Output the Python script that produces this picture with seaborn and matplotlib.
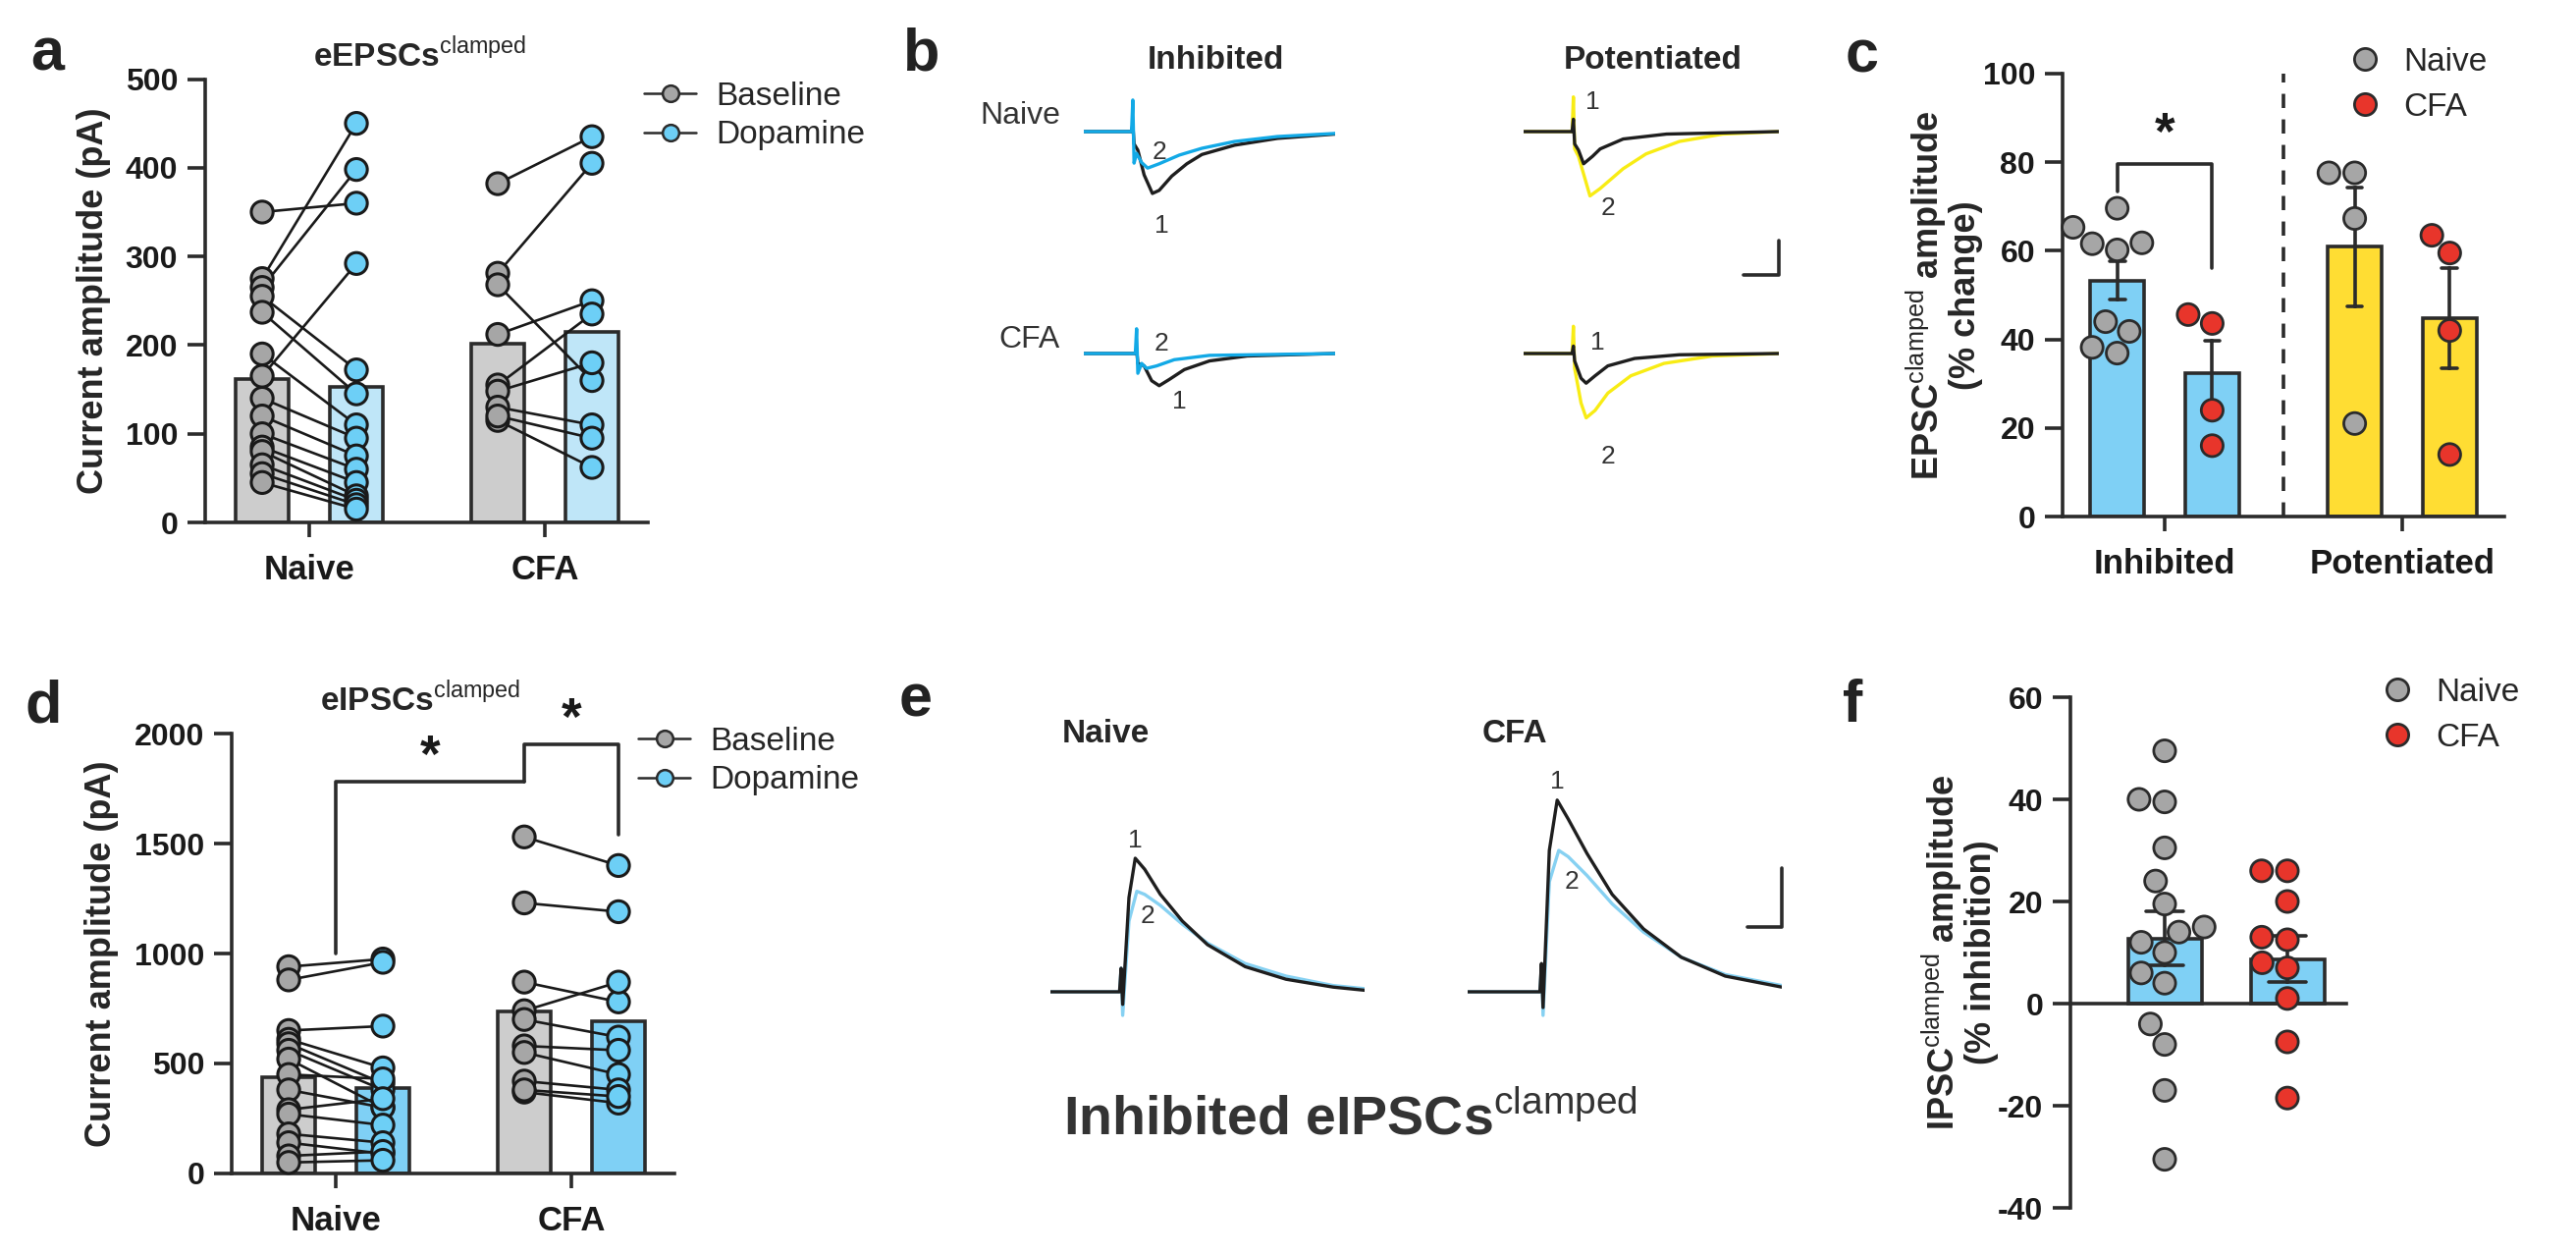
import numpy as np
import pandas as pd
import matplotlib
matplotlib.use("Agg")
import matplotlib.pyplot as plt
import seaborn as sns
from matplotlib.lines import Line2D

# ---------------- data ----------------
groups = ["Naive", "CFA"]
conditions = ["Baseline", "Dopamine"]

# panel a: eEPSCs clamped amplitude (pA), paired cells
a_naive_baseline = [350, 275, 265, 255, 237, 165, 190, 140, 120, 100, 85, 80, 65, 55, 45]
a_naive_dopamine = [360, 450, 398, 172, 145, 292, 110, 95, 75, 60, 45, 30, 25, 20, 15]
a_cfa_baseline = [382, 281, 268, 212, 155, 148, 130, 115, 120]
a_cfa_dopamine = [435, 405, 160, 250, 235, 180, 110, 62, 95]
a_yticks = [0, 100, 200, 300, 400, 500]

# panel d: eIPSCs clamped amplitude (pA), paired cells
d_naive_baseline = [940, 880, 650, 610, 590, 560, 520, 450, 380, 290, 270, 180, 140, 80, 50]
d_naive_dopamine = [975, 960, 670, 480, 410, 380, 300, 430, 300, 340, 220, 140, 90, 100, 60]
d_cfa_baseline = [1530, 1230, 870, 740, 700, 580, 550, 420, 370, 380]
d_cfa_dopamine = [1400, 1190, 780, 870, 620, 560, 450, 380, 320, 350]
d_yticks = [0, 500, 1000, 1500, 2000]

# panel c: EPSC clamped amplitude (% change)
c_categories = ["Inhibited", "Potentiated"]
c_inhibited_naive = [69.6, 65.3, 61.8, 61.6, 60.2, 44.0, 41.8, 38.2, 36.9]
c_inhibited_cfa = [45.6, 43.6, 24.0, 16.0]
c_potentiated_naive = [77.6, 77.6, 67.3, 21.0]
c_potentiated_cfa = [63.5, 59.5, 42.0, 14.0]
c_yticks = [0, 20, 40, 60, 80, 100]

# panel f: IPSC clamped amplitude (% inhibition)
f_naive = [49.5, 40, 39.5, 30.5, 24, 19.5, 15, 14, 12, 10, 6, 4, -4, -8, -17, -30.5]
f_cfa = [26, 26, 20, 13, 12.5, 8, 7, 1, -7.5, -18.5]
f_yticks = [-40, -20, 0, 20, 40, 60]

# panel b: example EPSC traces (time ms, current pA); 1 = baseline, 2 = dopamine
b_naive_inh_t1 = [0, 19, 19.5, 20, 21.5, 24, 27.3, 30, 35, 41, 47, 60, 77, 100]
b_naive_inh_i1 = [0, 0, 12, -20, -30, -70, -100, -95, -72, -52, -37, -22, -11, -4]
b_naive_inh_t2 = [0, 19, 19.5, 20, 21, 23, 25.4, 30, 38, 47, 60, 77, 100]
b_naive_inh_i2 = [0, 0, 51, -51, -35, -50, -59, -52, -38, -27, -16, -8, -3]
b_naive_pot_t1 = [0, 19, 19.5, 20, 21.5, 23.5, 27, 30, 39, 56, 100]
b_naive_pot_i1 = [0, 0, 20, -20, -30, -52, -40, -28, -12, -4, 0]
b_naive_pot_t2 = [0, 19, 19.5, 20, 21.5, 26, 30, 39, 48, 61, 78, 100]
b_naive_pot_i2 = [0, 0, 56, -28, -40, -104, -92, -60, -36, -16, -4, 0]
b_cfa_inh_t1 = [0, 20.5, 21, 21.5, 24, 27, 30, 34, 40, 50, 65, 100]
b_cfa_inh_i1 = [0, 0, 8, -16, -20, -44, -52, -42, -26, -12, -4, 0]
b_cfa_inh_t2 = [0, 20.5, 21, 21.5, 23, 25, 29, 36, 50, 100]
b_cfa_inh_i2 = [0, 0, 40, -32, -16, -24, -20, -10, -3, 0]
b_cfa_pot_t1 = [0, 19, 19.5, 20, 22.5, 24.5, 28, 33, 43.5, 61, 100]
b_cfa_pot_i1 = [0, 0, 12, -12, -40, -48, -36, -20, -8, -2, 0]
b_cfa_pot_t2 = [0, 19, 19.5, 20, 22.5, 24.5, 28, 33, 42, 55, 74, 100]
b_cfa_pot_i2 = [0, 0, 44, -24, -80, -104, -92, -64, -36, -16, -4, 0]
b_scalebar_ms, b_scalebar_pA = 13.7, 56

# panel e: example IPSC traces (time ms, current pA)
e_naive_t1 = [0, 22, 22.5, 23, 25, 27, 30, 35, 42, 50, 62, 75, 90, 100]
e_naive_i1 = [0, 0, 15, -8, 60, 85, 78, 62, 45, 30, 16, 8, 3, 1]
e_naive_t2 = [0, 22, 22.5, 23, 25, 27.5, 30, 35, 42, 50, 62, 75, 90, 100]
e_naive_i2 = [0, 0, 15, -15, 45, 64, 62, 55, 43, 31, 18, 10, 4, 2]
e_cfa_t1 = [0, 23, 23.5, 24, 26, 28.5, 32, 38, 46, 56, 68, 82, 100]
e_cfa_i1 = [0, 0, 18, -10, 90, 122, 110, 88, 62, 40, 22, 10, 3]
e_cfa_t2 = [0, 23, 23.5, 24, 26, 29, 32, 38, 46, 56, 68, 82, 100]
e_cfa_i2 = [0, 0, 16, -15, 70, 90, 86, 74, 56, 38, 22, 11, 4]
e_scalebar_ms, e_scalebar_pA = 11, 38

# significance annotations (data coordinates)
c_sig_x = [-0.2, -0.2, 0.2, 0.2]
c_sig_y = [73.5, 79.5, 79.5, 56]
d_sig1_x = [0, 0, 0.8]
d_sig1_y = [1000, 1780, 1780]
d_sig2_x = [0.8, 0.8, 1.2, 1.2]
d_sig2_y = [1780, 1950, 1950, 1540]

# ---------------- style ----------------
sns.set_theme(style="ticks")
plt.rcParams["font.family"] = ["Liberation Sans", "DejaVu Sans"]
plt.rcParams["mathtext.fontset"] = "custom"
plt.rcParams["mathtext.rm"] = "Liberation Sans"
plt.rcParams["mathtext.bf"] = "Liberation Sans:bold"
plt.rcParams["axes.unicode_minus"] = False

DARK = "#2b2b2b"
GREY_PT = "#a6a6a6"
BLUE_PT = "#6dcff6"
RED_PT = "#e8352b"
GREY_BAR = "#cdcdcd"
PALE_BLUE_BAR = "#bfe6f8"
BLUE_BAR = "#7fd0f5"
YELLOW_BAR = "#ffdd33"
TR_BLACK = "#1e1e1e"
TR_BLUE = "#12a9e6"
TR_YELLOW = "#f8ec14"
TR_LBLUE = "#86d1f2"

W, H = 2624, 1277
fig = plt.figure(figsize=(W / 100, H / 100), dpi=100)
fig.patch.set_facecolor("white")


def box(x0, y0, x1, y1):
    return fig.add_axes([x0 / W, 1 - y1 / H, (x1 - x0) / W, (y1 - y0) / H])


def ftext(x, y, s, **kw):
    return fig.text(x / W, 1 - y / H, s, **kw)


TICK_FS = 23
LAB_FS = 25


def style_axes(ax, xlim, ylim, yticks, xticks=None, xlabels=None):
    ax.set_xlim(*xlim)
    ax.set_ylim(*ylim)
    ax.set_yticks(yticks)
    ax.set_yticklabels([str(v) for v in yticks], fontsize=TICK_FS, fontweight="bold", color="#1a1a1a")
    if xticks is not None:
        ax.set_xticks(xticks)
        ax.set_xticklabels(xlabels, fontsize=LAB_FS, fontweight="bold", color="#1a1a1a")
    ax.set_xlabel("")
    ax.set_ylabel("")
    for s in ["top", "right"]:
        ax.spines[s].set_visible(False)
    for s in ["left", "bottom"]:
        ax.spines[s].set_linewidth(2.6)
        ax.spines[s].set_color(DARK)
    ax.tick_params(axis="y", length=13, width=2.6, color=DARK, pad=7)
    ax.tick_params(axis="x", length=11, width=2.6, color=DARK, pad=12)
    ax.set_facecolor("none")


def paired_frame(nb, nd, cb, cd):
    rows = []
    for gi, (g, base, da) in enumerate([("Naive", nb, nd), ("CFA", cb, cd)]):
        for k, (vb, vd) in enumerate(zip(base, da)):
            rows.append(dict(group=g, cond="Baseline", value=vb, pair=f"{g}{k}", xpos=gi - 0.2))
            rows.append(dict(group=g, cond="Dopamine", value=vd, pair=f"{g}{k}", xpos=gi + 0.2))
    return pd.DataFrame(rows)


def draw_paired(ax, df, bar_pal, gap):
    sns.barplot(data=df, x="group", y="value", hue="cond", order=groups, hue_order=conditions,
                errorbar=None, palette=bar_pal, saturation=1, width=0.8, gap=gap, edgecolor=DARK,
                linewidth=2.6, legend=False, ax=ax, zorder=1)
    sns.lineplot(data=df, x="xpos", y="value", units="pair", estimator=None, color="#1a1a1a",
                 linewidth=1.9, legend=False, ax=ax, zorder=2)
    sns.stripplot(data=df, x="group", y="value", hue="cond", order=groups, hue_order=conditions,
                  dodge=True, jitter=False, palette={"Baseline": GREY_PT, "Dopamine": BLUE_PT},
                  size=16, edgecolor="#1a1a1a", linewidth=2.2, legend=False, ax=ax, zorder=3)
    for c in ax.collections:
        c.set_clip_on(False)
    for l in ax.lines:
        l.set_clip_on(False)


def paired_legend(ax, x, y):
    handles = [Line2D([0], [0], color=DARK, lw=1.8, marker="o", markersize=12,
                      markerfacecolor=col, markeredgecolor=DARK, markeredgewidth=1.8)
               for col in (GREY_PT, BLUE_PT)]
    ax.legend(handles, conditions, loc="upper left", bbox_to_anchor=(x / W, 1 - y / H),
              bbox_transform=fig.transFigure, frameon=False, fontsize=24, handlelength=1.6,
              handletextpad=0.6, labelspacing=0.25, borderpad=0, borderaxespad=0)


def group_legend(ax, x, y):
    handles = [Line2D([0], [0], ls="none", marker="o", markersize=16,
                      markerfacecolor=col, markeredgecolor=DARK, markeredgewidth=2)
               for col in (GREY_PT, RED_PT)]
    ax.legend(handles, groups, loc="upper left", bbox_to_anchor=(x / W, 1 - y / H),
              bbox_transform=fig.transFigure, frameon=False, fontsize=24, handlelength=1.0,
              handletextpad=0.7, labelspacing=0.45, borderpad=0, borderaxespad=0)


# ---------------- panel a ----------------
ax_a = box(209, 80.5, 660, 532)
df_a = paired_frame(a_naive_baseline, a_naive_dopamine, a_cfa_baseline, a_cfa_dopamine)
draw_paired(ax_a, df_a, {"Baseline": GREY_BAR, "Dopamine": PALE_BLUE_BAR}, gap=0.44)
style_axes(ax_a, (-0.442, 1.4375), (0, 500), a_yticks, [0, 1], groups)
ax_a.set_ylabel("Current amplitude (pA)", fontsize=26, fontweight="bold")
ax_a.yaxis.set_label_coords(-0.213, 0.5)
paired_legend(ax_a, 656, 83)
ftext(428, 57, r"eEPSCs$^{\mathrm{clamped}}$", fontsize=24, fontweight="bold", ha="center", va="center")

# ---------------- panel d ----------------
ax_d = box(236, 747, 687, 1195)
df_d = paired_frame(d_naive_baseline, d_naive_dopamine, d_cfa_baseline, d_cfa_dopamine)
draw_paired(ax_d, df_d, {"Baseline": GREY_BAR, "Dopamine": BLUE_BAR}, gap=0.44)
style_axes(ax_d, (-0.442, 1.4375), (0, 2000), d_yticks, [0, 1], groups)
ax_d.set_ylabel("Current amplitude (pA)", fontsize=26, fontweight="bold")
ax_d.yaxis.set_label_coords(-0.255, 0.5)
for xs, ys in [(d_sig1_x, d_sig1_y), (d_sig2_x, d_sig2_y)]:
    ax_d.plot(xs, ys, color=DARK, lw=2.6, clip_on=False)
ax_d.text(0.4, 1775, "*", ha="center", va="bottom", fontsize=38, fontweight="bold", color="#1a1a1a")
ax_d.text(1.0, 1945, "*", ha="center", va="bottom", fontsize=38, fontweight="bold", color="#1a1a1a")
paired_legend(ax_d, 650, 740)
ftext(428, 713, r"eIPSCs$^{\mathrm{clamped}}$", fontsize=24, fontweight="bold", ha="center", va="center")

# ---------------- panel c ----------------
ax_c = box(2101, 75, 2551, 526)
df_c = pd.DataFrame(
    [dict(cat="Inhibited", group="Naive", value=v) for v in c_inhibited_naive]
    + [dict(cat="Inhibited", group="CFA", value=v) for v in c_inhibited_cfa]
    + [dict(cat="Potentiated", group="Naive", value=v) for v in c_potentiated_naive]
    + [dict(cat="Potentiated", group="CFA", value=v) for v in c_potentiated_cfa])
for cat, col in [("Inhibited", BLUE_BAR), ("Potentiated", YELLOW_BAR)]:
    sns.barplot(data=df_c[df_c.cat == cat], x="cat", y="value", hue="group", order=c_categories,
                hue_order=groups, palette={"Naive": col, "CFA": col}, saturation=1, errorbar="se",
                capsize=0.13, err_kws={"color": DARK, "linewidth": 2.6}, width=0.8, gap=0.43,
                edgecolor=DARK, linewidth=2.6, legend=False, ax=ax_c, zorder=1)
sns.swarmplot(data=df_c, x="cat", y="value", hue="group", order=c_categories, hue_order=groups,
              dodge=True, palette={"Naive": GREY_PT, "CFA": RED_PT}, size=16, edgecolor=DARK,
              linewidth=2, legend=False, ax=ax_c, zorder=3)
ax_c.axvline(0.5, color=DARK, lw=2.6, ls=(0, (4, 3.2)), zorder=0)
ax_c.plot(c_sig_x, c_sig_y, color=DARK, lw=2.6)
ax_c.text(0, 80.5, "*", ha="center", va="bottom", fontsize=38, fontweight="bold", color="#1a1a1a")
style_axes(ax_c, (-0.43, 1.43), (0, 100), c_yticks, [0, 1], c_categories)
ax_c.set_ylabel("EPSC$^{\\mathrm{clamped}}$ amplitude\n(% change)", fontsize=26, fontweight="bold",
                linespacing=1.0)
ax_c.yaxis.set_label_coords(-0.18, 0.5)
for c in ax_c.collections:
    c.set_clip_on(False)
group_legend(ax_c, 2392, 48)

# ---------------- panel f ----------------
ax_f = box(2109, 710, 2390, 1230)
df_f = pd.DataFrame([dict(group="Naive", value=v) for v in f_naive]
                    + [dict(group="CFA", value=v) for v in f_cfa])
sns.barplot(data=df_f, x="group", y="value", order=groups, color=BLUE_BAR, saturation=1,
            errorbar="se", capsize=0.3, err_kws={"color": DARK, "linewidth": 2.6}, width=0.6,
            edgecolor=DARK, linewidth=2.6, ax=ax_f, zorder=1)
sns.swarmplot(data=df_f, x="group", y="value", hue="group", order=groups, hue_order=groups,
              palette={"Naive": GREY_PT, "CFA": RED_PT}, size=16, edgecolor=DARK, linewidth=2,
              legend=False, ax=ax_f, zorder=3)
style_axes(ax_f, (-0.768, 1.48), (-40, 60), f_yticks)
ax_f.spines["bottom"].set_position(("data", 0))
ax_f.tick_params(axis="x", length=0, labelbottom=False)
ax_f.set_ylabel("IPSC$^{\\mathrm{clamped}}$ amplitude\n(% inhibition)", fontsize=26, fontweight="bold",
                linespacing=1.0)
ax_f.yaxis.set_label_coords(-0.26, 0.5)
group_legend(ax_f, 2425, 690)


# ---------------- traces ----------------
def trace_axes(x0, x1, base_y, ylim, ppu):
    ax = box(x0, base_y - ylim[1] * ppu, x1, base_y - ylim[0] * ppu)
    ax.set_xlim(0, 100)
    ax.set_ylim(*ylim)
    ax.axis("off")
    return ax


def draw_pair(ax, t_first, i_first, c_first, t_second, i_second, c_second, lw=2.4):
    sns.lineplot(x=t_first, y=i_first, color=c_first, lw=lw, ax=ax, estimator=None)
    sns.lineplot(x=t_second, y=i_second, color=c_second, lw=lw, ax=ax, estimator=None)
    ax.set_xlim(0, 100)
    ax.axis("off")


NUM_FS = 19
B_YLIM = (-130, 70)
B_PPU = 0.63
bx_inh = (1104, 1360)
bx_pot = (1552, 1812)
b_naive_base, b_cfa_base = 134, 360

ax = trace_axes(*bx_inh, b_naive_base, B_YLIM, B_PPU)
draw_pair(ax, b_naive_inh_t1, b_naive_inh_i1, TR_BLACK, b_naive_inh_t2, b_naive_inh_i2, TR_BLUE)
ax.text(30, -33, "2", fontsize=NUM_FS, color="#333", ha="center", va="center")
ax.text(31, -152, "1", fontsize=NUM_FS, color="#333", ha="center", va="center")

ax = trace_axes(*bx_pot, b_naive_base, B_YLIM, B_PPU)
draw_pair(ax, b_naive_pot_t2, b_naive_pot_i2, TR_YELLOW, b_naive_pot_t1, b_naive_pot_i1, TR_BLACK)
ax.text(27, 48, "1", fontsize=NUM_FS, color="#333", ha="center", va="center")
ax.text(33, -124, "2", fontsize=NUM_FS, color="#333", ha="center", va="center")
ax.plot([100 - b_scalebar_ms, 100, 100], [-232, -232, -232 + b_scalebar_pA], color=DARK, lw=2.6,
        clip_on=False)

ax = trace_axes(*bx_inh, b_cfa_base, B_YLIM, B_PPU)
draw_pair(ax, b_cfa_inh_t1, b_cfa_inh_i1, TR_BLACK, b_cfa_inh_t2, b_cfa_inh_i2, TR_BLUE)
ax.text(31, 16, "2", fontsize=NUM_FS, color="#333", ha="center", va="center")
ax.text(38, -78, "1", fontsize=NUM_FS, color="#333", ha="center", va="center")

ax = trace_axes(*bx_pot, b_cfa_base, B_YLIM, B_PPU)
draw_pair(ax, b_cfa_pot_t2, b_cfa_pot_i2, TR_YELLOW, b_cfa_pot_t1, b_cfa_pot_i1, TR_BLACK)
ax.text(29, 18, "1", fontsize=NUM_FS, color="#333", ha="center", va="center")
ax.text(33, -166, "2", fontsize=NUM_FS, color="#333", ha="center", va="center")

ftext(1238, 62, "Inhibited", fontsize=24, fontweight="bold", ha="center", va="center")
ftext(1684, 62, "Potentiated", fontsize=24, fontweight="bold", ha="center", va="center")
ftext(1080, 118, "Naive", fontsize=23, ha="right", va="center", color="#333")
ftext(1080, 346, "CFA", fontsize=23, ha="right", va="center", color="#333")

E_YLIM = (-20, 140)
E_PPU = 1.6
e_base = 1010
ax = trace_axes(1070, 1390, e_base, E_YLIM, E_PPU)
draw_pair(ax, e_naive_t2, e_naive_i2, TR_LBLUE, e_naive_t1, e_naive_i1, TR_BLACK)
ax.text(27, 96, "1", fontsize=NUM_FS, color="#333", ha="center", va="center")
ax.text(31, 48, "2", fontsize=NUM_FS, color="#333", ha="center", va="center")

ax = trace_axes(1495, 1815, e_base, E_YLIM, E_PPU)
draw_pair(ax, e_cfa_t2, e_cfa_i2, TR_LBLUE, e_cfa_t1, e_cfa_i1, TR_BLACK)
ax.text(28.5, 134, "1", fontsize=NUM_FS, color="#333", ha="center", va="center")
ax.text(33, 70, "2", fontsize=NUM_FS, color="#333", ha="center", va="center")
ax.plot([100 - e_scalebar_ms, 100, 100], [41, 41, 41 + e_scalebar_pA], color=DARK, lw=2.6,
        clip_on=False)

ftext(1082, 748, "Naive", fontsize=24, fontweight="bold", ha="left", va="center")
ftext(1510, 748, "CFA", fontsize=24, fontweight="bold", ha="left", va="center")
ftext(1375, 1140, r"Inhibited eIPSCs$^{\mathrm{clamped}}$", fontsize=40, fontweight="bold",
      ha="center", va="center", color="#333")

# ---------------- panel letters ----------------
for s, x, y in [("a", 48, 72), ("b", 939, 72), ("c", 1897, 73),
                ("d", 44, 735), ("e", 933, 730), ("f", 1887, 735)]:
    ftext(x, y, s, fontsize=44, fontweight="bold", ha="center", va="baseline", color="#222")

fig.savefig("out.png", dpi=100, facecolor="white")
